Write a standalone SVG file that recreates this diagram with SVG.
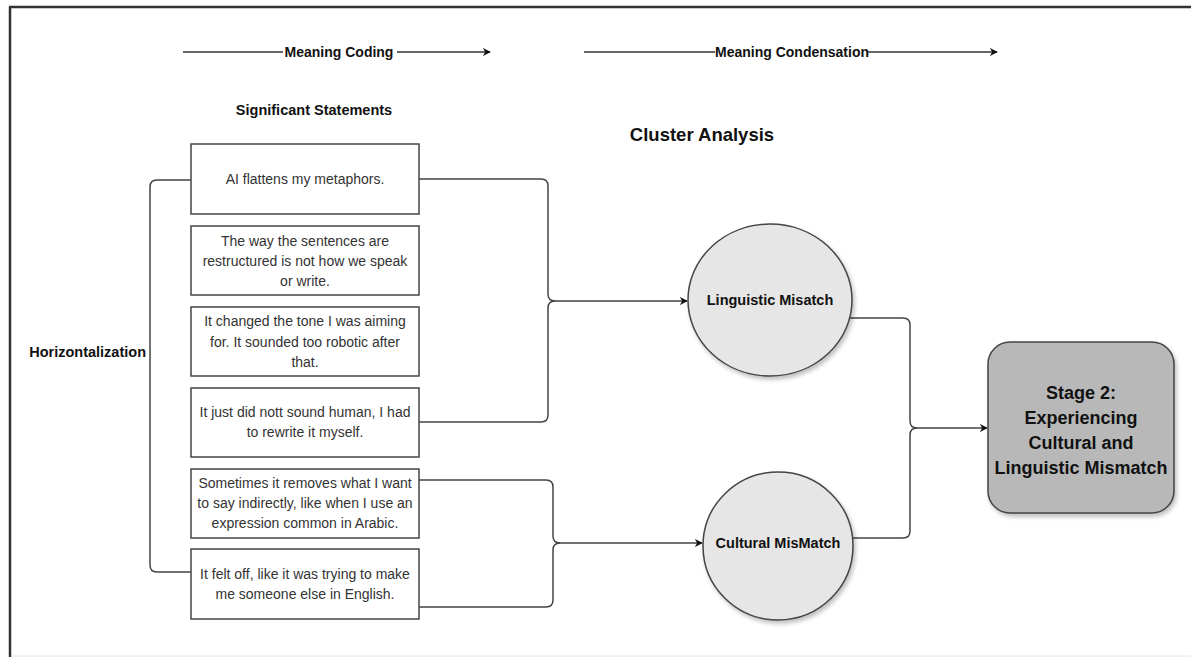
<svg xmlns="http://www.w3.org/2000/svg" width="1191" height="657" viewBox="0 0 1191 657">
<style>
.frame{fill:none;stroke:#333;stroke-width:2.5}
.box{fill:#fff;stroke:#444;stroke-width:1.5}
.stmt{font-family:"Liberation Sans",Arial,sans-serif;font-size:14px;fill:#333;text-anchor:middle}
.lbl{font-family:"Liberation Sans",Arial,sans-serif;font-weight:bold;fill:#111}
.conn{fill:none;stroke:#444;stroke-width:1.5}
.circ{fill:#e6e6e6;stroke:#444;stroke-width:1.5}
.stage{fill:#b8b8b8;stroke:#444;stroke-width:1.5}
</style>
<defs>
<marker id="arr" viewBox="0 0 10 10" refX="9" refY="5" markerWidth="8" markerHeight="8" markerUnits="userSpaceOnUse" orient="auto">
<path d="M0,0 L10,5 L0,10 L3,5 Z" fill="#111"/>
</marker>
<filter id="sh" x="-20%" y="-20%" width="140%" height="140%">
<feDropShadow dx="2" dy="3" stdDeviation="2" flood-color="#000" flood-opacity="0.25"/>
</filter>
</defs>
<rect width="1191" height="657" fill="#fff"/>
<g id="frame">
<line x1="10" y1="7" x2="10" y2="657" stroke="#333" stroke-width="2.5"/>
<line x1="9" y1="7" x2="1191" y2="7" stroke="#333" stroke-width="2.5"/>
<line x1="11" y1="656" x2="1191" y2="656" stroke="#e4e4e4" stroke-width="1"/>
</g>
<g id="headers">
<line x1="183" y1="52" x2="283" y2="52" stroke="#333" stroke-width="1.3"/>
<line x1="397" y1="52" x2="490" y2="52" stroke="#333" stroke-width="1.3" marker-end="url(#arr)"/>
<text class="lbl" x="339" y="57" font-size="14" text-anchor="middle">Meaning Coding</text>
<line x1="584" y1="52" x2="715" y2="52" stroke="#333" stroke-width="1.3"/>
<line x1="868" y1="52" x2="997" y2="52" stroke="#333" stroke-width="1.3" marker-end="url(#arr)"/>
<text class="lbl" x="792" y="57" font-size="14" text-anchor="middle">Meaning Condensation</text>
<text class="lbl" x="314" y="115" font-size="14.5" text-anchor="middle">Significant Statements</text>
<text class="lbl" x="702" y="141" font-size="18.5" text-anchor="middle">Cluster Analysis</text>
<text class="lbl" x="146" y="357" font-size="14.5" text-anchor="end">Horizontalization</text>
</g>
<g id="connectors">
<path class="conn" d="M191,180 H157 Q150,180 150,187 V565 Q150,572 157,572 H191"/>
<path class="conn" d="M419,179 H541 Q548,179 548,186 V294 Q548,301 555,301 H687" marker-end="url(#arr)"/>
<path class="conn" d="M419,422 H541 Q548,422 548,415 V308 Q548,301 555,301"/>
<path class="conn" d="M419,480 H546 Q553,480 553,487 V536 Q553,543 560,543 H702" marker-end="url(#arr)"/>
<path class="conn" d="M419,607 H546 Q553,607 553,600 V550 Q553,543 560,543"/>
<path class="conn" d="M850,318 H903 Q910,318 910,325 V421 Q910,428 917,428 H987" marker-end="url(#arr)"/>
<path class="conn" d="M853,538 H903 Q910,538 910,531 V435 Q910,428 917,428"/>
</g>
<g id="s1">
<rect class="box" x="191" y="144" width="228" height="70"/>
<text class="stmt" x="305" y="184">AI flattens my metaphors.</text>
</g>
<g id="s2">
<rect class="box" x="191" y="226" width="228" height="69"/>
<text class="stmt" x="305" y="246">The way the sentences are</text>
<text class="stmt" x="305" y="266">restructured is not how we speak</text>
<text class="stmt" x="305" y="286">or write.</text>
</g>
<g id="s3">
<rect class="box" x="191" y="307" width="228" height="69"/>
<text class="stmt" x="305" y="326">It changed the tone I was aiming</text>
<text class="stmt" x="305" y="347">for. It sounded too robotic after</text>
<text class="stmt" x="305" y="367">that.</text>
</g>
<g id="s4">
<rect class="box" x="191" y="388" width="228" height="69"/>
<text class="stmt" x="305" y="417">It just did nott sound human, I had</text>
<text class="stmt" x="305" y="437">to rewrite it myself.</text>
</g>
<g id="s5">
<rect class="box" x="191" y="469" width="228" height="69"/>
<text class="stmt" x="305" y="488">Sometimes it removes what I want</text>
<text class="stmt" x="305" y="508">to say indirectly, like when I use an</text>
<text class="stmt" x="305" y="528">expression common in Arabic.</text>
</g>
<g id="s6">
<rect class="box" x="191" y="549" width="228" height="70"/>
<text class="stmt" x="305" y="579">It felt off, like it was trying to make</text>
<text class="stmt" x="305" y="599">me someone else in English.</text>
</g>
<g id="linguistic">
<ellipse class="circ" cx="770" cy="300" rx="82" ry="76" filter="url(#sh)"/>
<text class="lbl" x="770" y="305" font-size="14.5" text-anchor="middle">Linguistic Misatch</text>
</g>
<g id="cultural">
<ellipse class="circ" cx="778" cy="546" rx="75" ry="74" filter="url(#sh)"/>
<text class="lbl" x="778" y="548" font-size="14.5" text-anchor="middle">Cultural MisMatch</text>
</g>
<g id="stage2">
<rect class="stage" x="988" y="342" width="186" height="171" rx="22" filter="url(#sh)"/>
<text class="lbl" x="1081" y="399" font-size="18" text-anchor="middle">Stage 2:</text>
<text class="lbl" x="1081" y="424" font-size="18" text-anchor="middle">Experiencing</text>
<text class="lbl" x="1081" y="449" font-size="18" text-anchor="middle">Cultural and</text>
<text class="lbl" x="1081" y="474" font-size="18" text-anchor="middle">Linguistic Mismatch</text>
</g>
</svg>
